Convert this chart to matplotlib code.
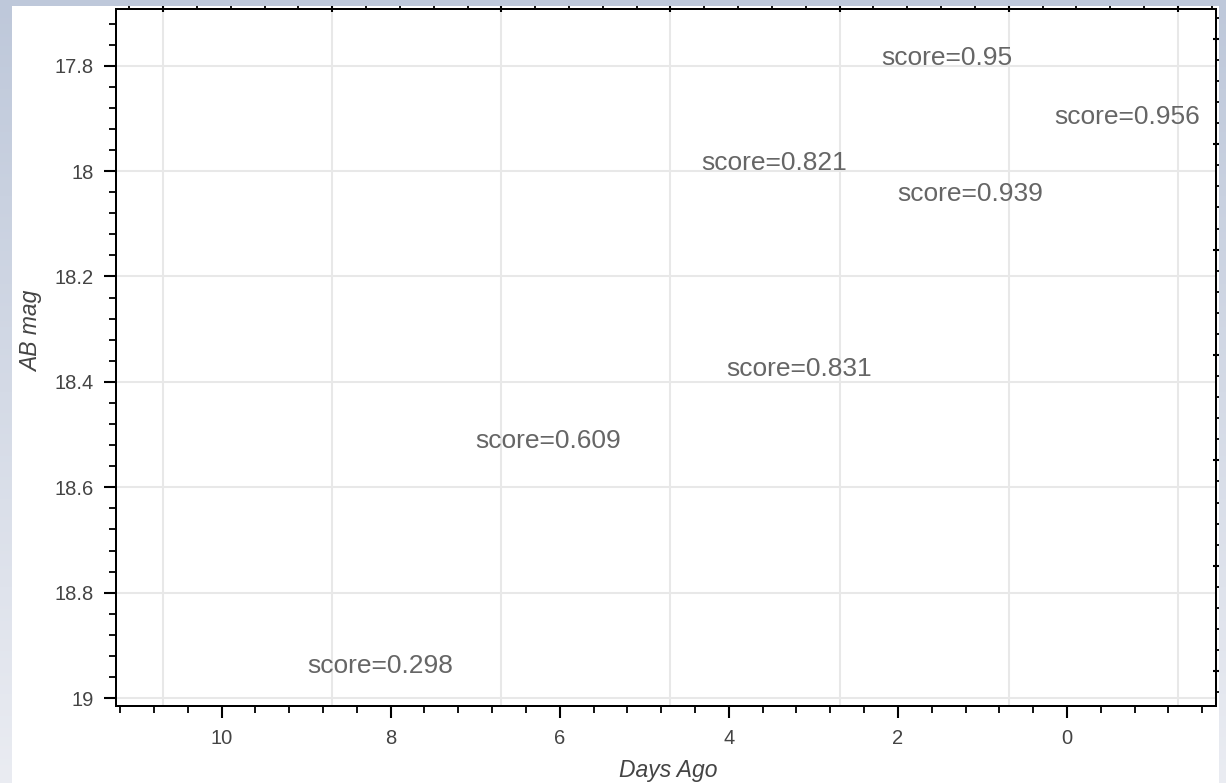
import numpy as np
import matplotlib
matplotlib.use("Agg")
import matplotlib.pyplot as plt
from matplotlib.ticker import MultipleLocator, FuncFormatter
from matplotlib.patches import Rectangle
from matplotlib.colors import LinearSegmentedColormap

plt.rcParams['font.family'] = ['Liberation Sans', 'DejaVu Sans']

# score labels: position (days ago, AB mag) and score value
score_days = [2.20, 0.154, 4.33, 2.01, 4.03, 7.00, 8.99]
score_mag = [17.799, 17.911, 17.998, 18.057, 18.389, 18.525, 18.952]
score_vals = [0.95, 0.956, 0.821, 0.939, 0.831, 0.609, 0.298]

x_range = (11.254, -1.762)
y_range = (19.015, 17.693)
grid_shift_x = 0.69    # top axis / vertical grid are drawn shifted
right_shift_y = 0.051  # right axis ticks are drawn shifted

W, H = 1226, 783
fig = plt.figure(figsize=(W / 100, H / 100), dpi=100)

# page background: blueish gradient with a white panel
bg = fig.add_axes([0, 0, 1, 1], zorder=-10)
cmap = LinearSegmentedColormap.from_list("bg", ["#eaecf2", "#bec8da"])
bg.imshow(np.linspace(0, 1, 256).reshape(-1, 1), aspect='auto', cmap=cmap,
          extent=[0, 1, 0, 1], origin='lower')
bg.add_patch(Rectangle((12 / W, 0), (1219 - 12) / W, (H - 6) / H,
                       facecolor='white', edgecolor='none'))
bg.set_xlim(0, 1)
bg.set_ylim(0, 1)
bg.axis('off')

ax = fig.add_axes([115.5 / W, 1 - 706 / H, (1216 - 115.5) / W, (706 - 9.3) / H])
ax.set_xlim(*x_range)
ax.set_ylim(*y_range)

fmt = FuncFormatter(lambda v, p: f"{round(v, 2) + 0.0:g}")
ax.xaxis.set_major_locator(MultipleLocator(2))
ax.xaxis.set_minor_locator(MultipleLocator(0.4))
ax.yaxis.set_major_locator(MultipleLocator(0.2))
ax.yaxis.set_minor_locator(MultipleLocator(0.04))
ax.xaxis.set_major_formatter(fmt)
ax.yaxis.set_major_formatter(fmt)
ax.tick_params(axis='both', which='major', direction='out', length=8.5, width=1.5,
               labelsize=14.5, labelcolor='#444444', color='black')
ax.tick_params(axis='both', which='minor', direction='out', length=5, width=1.3)
ax.tick_params(axis='y', which='major', pad=7)
ax.tick_params(axis='x', which='major', pad=8)
ax.yaxis.grid(True, color='#e8e8e8', linewidth=1.5)
ax.set_axisbelow(True)
for s in ax.spines.values():
    s.set_linewidth(1.4)

# top axis (ticks + vertical grid), shifted like in the original
ax_top = ax.twiny()
ax_top.set_xlim(x_range[0] - grid_shift_x, x_range[1] - grid_shift_x)
ax_top.xaxis.set_major_locator(MultipleLocator(2))
ax_top.xaxis.set_minor_locator(MultipleLocator(0.4))
ax_top.tick_params(axis='x', which='major', direction='inout', length=4.5, width=1.5,
                   labeltop=False)
ax_top.tick_params(axis='x', which='minor', direction='out', length=2.2, width=1.3)
ax_top.xaxis.grid(True, color='#e8e8e8', linewidth=1.5)
ax_top.set_axisbelow(True)
for s in ax_top.spines.values():
    s.set_linewidth(1.4)

# right axis ticks, shifted
ax_right = ax.twinx()
ax_right.set_ylim(y_range[0] + right_shift_y, y_range[1] + right_shift_y)
ax_right.yaxis.set_major_locator(MultipleLocator(0.2))
ax_right.yaxis.set_minor_locator(MultipleLocator(0.04))
ax_right.tick_params(axis='y', which='major', direction='inout', length=4.5, width=1.5,
                     labelright=False)
ax_right.tick_params(axis='y', which='minor', direction='out', length=2.2, width=1.3)
for s in ax_right.spines.values():
    s.set_linewidth(1.4)

for d, m, v in zip(score_days, score_mag, score_vals):
    ax_right.text(d, m, f"score={v}", transform=ax.transData, ha='left', va='baseline',
                  fontsize=19, color='#666666')

fig.text(32 / W, 1 - 331 / H, "AB mag", rotation=90, ha='center', va='center',
         fontsize=16.5, style='italic', color='#444444')
fig.text(668 / W, 1 - 770 / H, "Days Ago", ha='center', va='center',
         fontsize=16.5, style='italic', color='#444444')

fig.savefig("out.png", dpi=100)
